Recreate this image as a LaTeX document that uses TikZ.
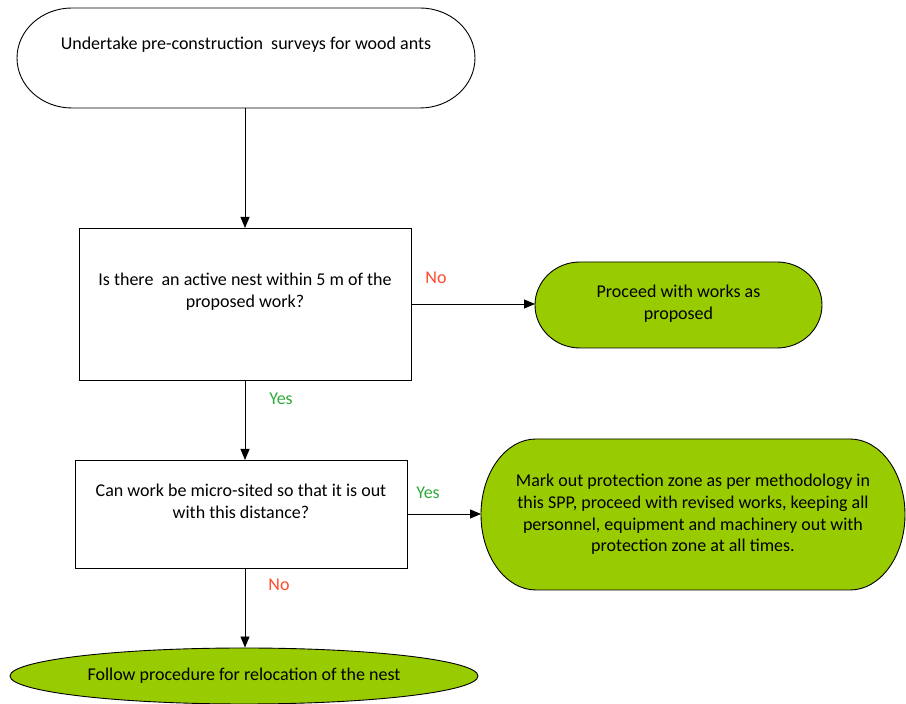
\documentclass[tikz,border=0pt]{standalone}
\usepackage{fontspec}
\setmainfont{Carlito}
\usetikzlibrary{shapes.geometric,arrows.meta,backgrounds,calc}
\definecolor{limefill}{HTML}{99CC00}
\definecolor{nored}{HTML}{FF4B2B}
\definecolor{yesgreen}{HTML}{2EAA3A}
\newcommand\mystad[3]{%
  \path[#3] let \p1=(#1.north), \p2=(#1.south), \n1={(\y1-\y2)/2} in
    ([xshift=#2]#1.north west) -- ([xshift=-#2]#1.north east)
    arc[start angle=90,end angle=-90,x radius=#2,y radius=\n1]
    -- ([xshift=#2]#1.south west)
    arc[start angle=270,end angle=90,x radius=#2,y radius=\n1] -- cycle;}
\begin{document}
\begin{tikzpicture}[x=1pt,y=1pt,
  font=\fontsize{18}{21.7}\selectfont,
  every label/.style={align=center, inner sep=0pt},
  region/.style={draw=none, inner sep=0pt, outer sep=0pt},
  qbox/.style={draw, line width=0.9pt, inner sep=0pt, outer sep=0pt},
  shapeline/.style={draw, line width=0.9pt},
  arr/.style={line width=0.9pt, -{Triangle[length=11pt,width=9pt]}},
  nolab/.style={text=nored},
  yeslab/.style={text=yesgreen}]
\useasboundingbox (0,0) rectangle (906,704);
% nodes
\node[region, minimum width=458pt, minimum height=100pt,
  label={[yshift=13pt]center:Undertake pre-construction\ \ surveys for wood ants}] (start) at (246,646) {};
\node[qbox, minimum width=332pt, minimum height=152pt,
  label={[yshift=12.5pt]center:Is there\ \ an active nest within 5 m of the\\proposed work?}] (q1) at (245,400) {};
\node[region, minimum width=287pt, minimum height=86pt,
  label={[yshift=1.5pt]center:Proceed with works as\\proposed}] (g1) at (678.5,399) {};
\node[qbox, minimum width=332pt, minimum height=108pt,
  label={[yshift=13pt]center:Can work be micro-sited so that it is out\\with this distance?}] (q2) at (241,190) {};
\node[region, minimum width=424pt, minimum height=151pt,
  label={center:Mark out protection zone as per methodology in\\this SPP, proceed with revised works, keeping all\\personnel, equipment and machinery out with\\protection zone at all times.}] (g2) at (693,189.5) {};
\node[ellipse, draw, line width=0.9pt, fill=limefill, inner sep=0pt,
  minimum width=468pt, minimum height=56pt] (end) at (244,28) {Follow procedure for relocation of the nest};
% labels
\node[nolab] (no1) at (436,426) {No};
\node[yeslab] (yes1) at (281,305) {Yes};
\node[yeslab] (yes2) at (428,211) {Yes};
\node[nolab] (no2) at (279,119) {No};
% shapes
\begin{scope}[on background layer]
  \mystad{start}{55pt}{shapeline, fill=white}
  \mystad{g1}{45pt}{shapeline, fill=limefill}
  \mystad{g2}{55pt}{shapeline, fill=limefill}
\end{scope}
% connectors
\draw[arr] (q1.north |- start.south) -- (q1.north);
\draw[arr] (q1.east) -- (q1.east -| g1.west);
\draw[arr] (q1.south) -- (q1.south |- q2.north);
\draw[arr] (q2.east) -- (q2.east -| g2.west);
\draw[arr] (q1.south |- q2.south) -- (q1.south |- end.north);
\end{tikzpicture}
\end{document}
